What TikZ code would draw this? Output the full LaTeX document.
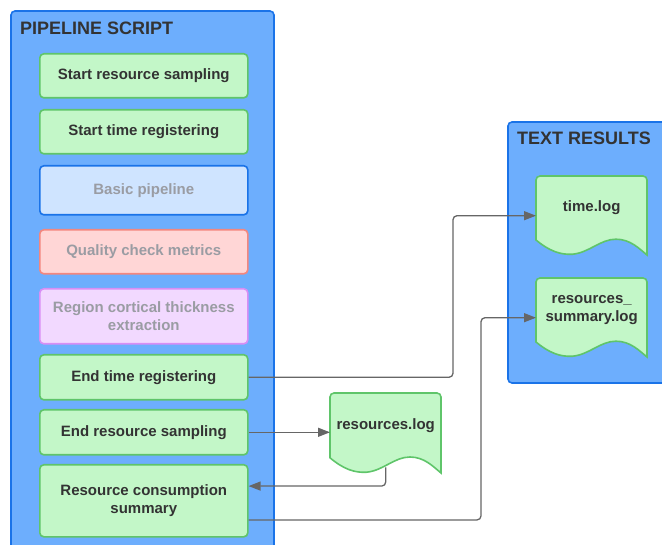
\documentclass[tikz,border=0pt]{standalone}
\usepackage{fontspec}
\setmainfont{Liberation Sans}
\usetikzlibrary{arrows.meta,calc}

\definecolor{panelfill}{HTML}{6DAEFD}
\definecolor{panelline}{HTML}{1A73E8}
\definecolor{greenfill}{HTML}{C3F7C8}
\definecolor{greenline}{HTML}{5FC56A}
\definecolor{bluefill}{HTML}{CFE4FF}
\definecolor{blueline}{HTML}{1A73E8}
\definecolor{redfill}{HTML}{FFD6D6}
\definecolor{redline}{HTML}{F3877F}
\definecolor{purplefill}{HTML}{F2D9FF}
\definecolor{purpleline}{HTML}{D88EF5}
\definecolor{inktext}{HTML}{333333}
\definecolor{fadedtext}{HTML}{9A9CA3}
\definecolor{wire}{HTML}{666666}

\pgfdeclarelayer{back}
\pgfdeclarelayer{docs}
\pgfsetlayers{back,docs,main}

\tikzset{
  panel/.style={draw=panelline, fill=panelfill, line width=1.6pt, rounded corners=4pt},
  paneltitle/.style={anchor=west, inner sep=0pt, text=inktext,
    font=\fontsize{18}{21}\selectfont\bfseries},
  stepbox/.style={draw=greenline, fill=greenfill, line width=1.6pt, rounded corners=4pt,
    anchor=north west, text=inktext, align=center,
    font=\fontsize{15}{18}\selectfont\bfseries},
  fadedbox/.style={stepbox, text=fadedtext},
  docframe/.style={draw=greenline, fill=greenfill, line width=1.6pt},
  docarea/.style={draw=none, anchor=north west, inner sep=0pt},
  doctext/.style={text=inktext, align=center, inner sep=0pt,
    font=\fontsize{15}{18}\selectfont\bfseries},
  conn/.style={draw=wire, line width=1.3pt, rounded corners=4pt,
    -{Triangle[length=12pt,width=9pt]}},
}

% document-shaped node: #1 name, #2 left, #3 top, #4 width, #5 height, #6 text
\newcommand{\docnode}[6]{%
  \node[docarea, minimum width=#4pt, minimum height=#5pt] (#1) at (#2,#3) {};
  \node[doctext] (#1-t) at ($(#1.north)!0.405!(#1.south)$) {#6};
  \begin{pgfonlayer}{docs}
    \begin{scope}[shift={(#2,#3)}, x=#4pt, y=-#5pt]
      \path[docframe]
        (0,0.81) [rounded corners=4pt] -- (0,0) -- (1,0) [sharp corners] -- (1,1)
        .. controls (0.93,0.92) and (0.85,0.80) .. (0.72,0.80)
        .. controls (0.58,0.80) and (0.48,0.97) .. (0.33,0.99)
        .. controls (0.22,1.00) and (0.12,0.95) .. (0,0.81) -- cycle;
    \end{scope}
  \end{pgfonlayer}}

\begin{document}
\begin{tikzpicture}[x=1pt, y=-1pt]
  \useasboundingbox (0,0) rectangle (662,545);
  \clip (0,0) rectangle (662,545);

  % containers
  \begin{pgfonlayer}{back}
    \path[panel] (11,11) rectangle (274,570);
    \path[panel] (508,122) rectangle (690,383);
  \end{pgfonlayer}
  \node[paneltitle] (ptitle) at (20,28) {PIPELINE SCRIPT};
  \node[paneltitle] (ttitle) at (517,138.5) {TEXT RESULTS};

  % pipeline steps
  \node[stepbox, minimum width=208pt, minimum height=44pt] (ssamp) at (39,53) {Start resource sampling};
  \node[stepbox, minimum width=208pt, minimum height=44pt] (stime) at (39,109) {Start time registering};
  \node[fadedbox, draw=blueline, fill=bluefill, minimum width=208pt, minimum height=49pt] (basic) at (39,165) {Basic pipeline};
  \node[fadedbox, draw=redline, fill=redfill, minimum width=208pt, minimum height=44pt] (qc) at (39,229) {Quality check metrics};
  \node[fadedbox, draw=purpleline, fill=purplefill, minimum width=208pt, minimum height=55pt] (region) at (39,288) {Region cortical thickness\\extraction};
  \node[stepbox, minimum width=208pt, minimum height=45pt] (etime) at (39,354) {End time registering};
  \node[stepbox, minimum width=208pt, minimum height=45pt] (esamp) at (39,409) {End resource sampling};
  \node[stepbox, minimum width=208pt, minimum height=72pt] (rcs) at (39,464) {Resource consumption\\summary};

  % log files
  \docnode{rlog}{330}{393}{111}{80}{resources.log}
  \docnode{tlog}{536}{176}{111}{79}{time.log}
  \docnode{rsum}{536}{278}{111}{79}{resources\_\\summary.log}

  % bend columns of the long connectors
  \coordinate (colA) at (453,0);
  \coordinate (colB) at (481,0);

  % connectors
  \draw[conn] (etime.east) -- (etime.east -| colA) |- (tlog.west);
  \draw[conn] (esamp.east) -- (esamp.east -| rlog.west);
  \draw[conn] ([yshift=6pt]rlog.south) |- ($(rcs.north east)!0.3!(rcs.south east)$);
  \draw[conn] ($(rcs.north east)!0.76!(rcs.south east)$) -| (colB |- rsum.west) -- (rsum.west);
\end{tikzpicture}
\end{document}
